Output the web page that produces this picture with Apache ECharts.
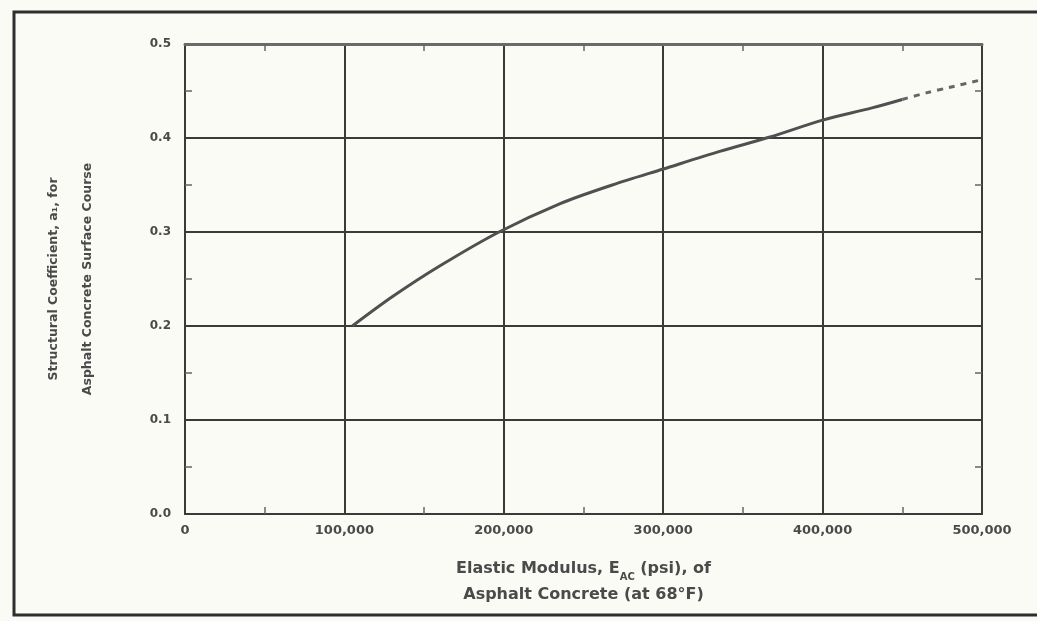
<!DOCTYPE html>
<html>
<head>
<meta charset="utf-8">
<script src="https://cdn.jsdelivr.net/npm/echarts@6/dist/echarts.min.js"></script>
<style>
  html, body { margin: 0; padding: 0; background: #fbfbf6; }
  #chart { width: 1037px; height: 621px; }
</style>
</head>
<body>
<div id="chart"></div>
<script>
// 弹性模量 (psi) 与层系数 a1
var modulusSolid = [105000, 130000, 160000, 197000, 235000, 268000, 300000, 336000, 367000, 400000, 431000, 450000]
var coefSolid = [0.200, 0.231, 0.264, 0.300, 0.330, 0.350, 0.367, 0.386, 0.401, 0.419, 0.432, 0.441]

// 外推部分 (虚线)
var modulusDash = [450000, 465000, 480000, 500000]
var coefDash = [0.441, 0.448, 0.454, 0.462]

var xTicks = ['0', '100,000', '200,000', '300,000', '400,000', '500,000']
var yTicks = ['0.0', '0.1', '0.2', '0.3', '0.4', '0.5']

var dom = document.getElementById('chart')
var myChart = echarts.init(dom)

function pairs(xs, ys) {
    return xs.map(function (x, i) { return [x, ys[i]] })
}

var inkColor = '#3a3a3a'
var textColor = '#4a4a4a'
var fontName = 'DejaVu Sans'

function boxAxis(extra) {
    return Object.assign({
        type: 'value',
        axisLine: { show: true, onZero: false, lineStyle: { color: inkColor, width: 2 } },
        axisTick: { show: false, inside: true },
        minorTick: { show: true, splitNumber: 2, length: 7, lineStyle: { color: '#666', width: 1.5 } },
        axisLabel: { show: false },
        splitLine: { show: false }
    }, extra)
}

var option = {
    backgroundColor: '#fbfbf6',
    animation: false,
    graphic: [{
        type: 'rect',
        shape: { x: 14, y: 12, width: 1040, height: 603 },
        style: { fill: 'none', stroke: '#2e2e2e', lineWidth: 3 },
        silent: true
    }],
    grid: {
        left: 185,
        right: 55,
        top: 44,
        bottom: 107
    },
    xAxis: [
        boxAxis({
            min: 0,
            max: 500000,
            interval: 100000,
            position: 'bottom',
            axisLabel: {
                show: true,
                color: textColor,
                fontSize: 13,
                fontWeight: 'bold',
                fontFamily: fontName,
                margin: 10,
                formatter: function (v) { return xTicks[Math.round(v / 100000)] }
            },
            splitLine: { show: true, lineStyle: { color: inkColor, width: 2 } },
            name: '{n|Elastic Modulus, E}{s|AC}{n| (psi), of}\n{n|Asphalt Concrete (at 68°F)}',
            nameLocation: 'middle',
            nameGap: 42,
            nameTextStyle: {
                lineHeight: 26,
                rich: {
                    n: { fontSize: 16, fontWeight: 'bold', color: textColor, fontFamily: fontName },
                    s: { fontSize: 10, fontWeight: 'bold', color: textColor, fontFamily: fontName, verticalAlign: 'bottom', padding: [8, 0, 0, 0] }
                }
            }
        }),
        boxAxis({
            min: 0, max: 500000, interval: 100000, position: 'top',
            axisLine: { show: true, onZero: false, lineStyle: { color: '#6a6a6a', width: 3 } }
        })
    ],
    yAxis: [
        boxAxis({
            min: 0,
            max: 0.5,
            interval: 0.1,
            position: 'left',
            axisLabel: {
                show: true,
                color: textColor,
                fontSize: 12,
                fontWeight: 'bold',
                fontFamily: fontName,
                margin: 14,
                formatter: function (v) { return yTicks[Math.round(v * 10)] }
            },
            splitLine: { show: true, lineStyle: { color: inkColor, width: 2 } },
            name: 'Structural Coefficient, a₁, for\nAsphalt Concrete Surface Course',
            nameLocation: 'middle',
            nameRotate: 90,
            nameGap: 80,
            nameTextStyle: {
                color: textColor,
                fontSize: 12.5,
                fontWeight: 'bold',
                fontFamily: fontName,
                lineHeight: 34
            }
        }),
        boxAxis({ min: 0, max: 0.5, interval: 0.1, position: 'right' })
    ],
    series: [
        {
            type: 'line',
            name: 'a1',
            data: pairs(modulusSolid, coefSolid),
            smooth: 0.3,
            symbol: 'none',
            lineStyle: { color: '#505050', width: 3 }
        },
        {
            type: 'line',
            name: 'a1 extrapolated',
            data: pairs(modulusDash, coefDash),
            smooth: 0.3,
            symbol: 'none',
            lineStyle: { color: '#666', width: 3, type: [6, 6] }
        }
    ]
}

myChart.setOption(option)
</script>
</body>
</html>
